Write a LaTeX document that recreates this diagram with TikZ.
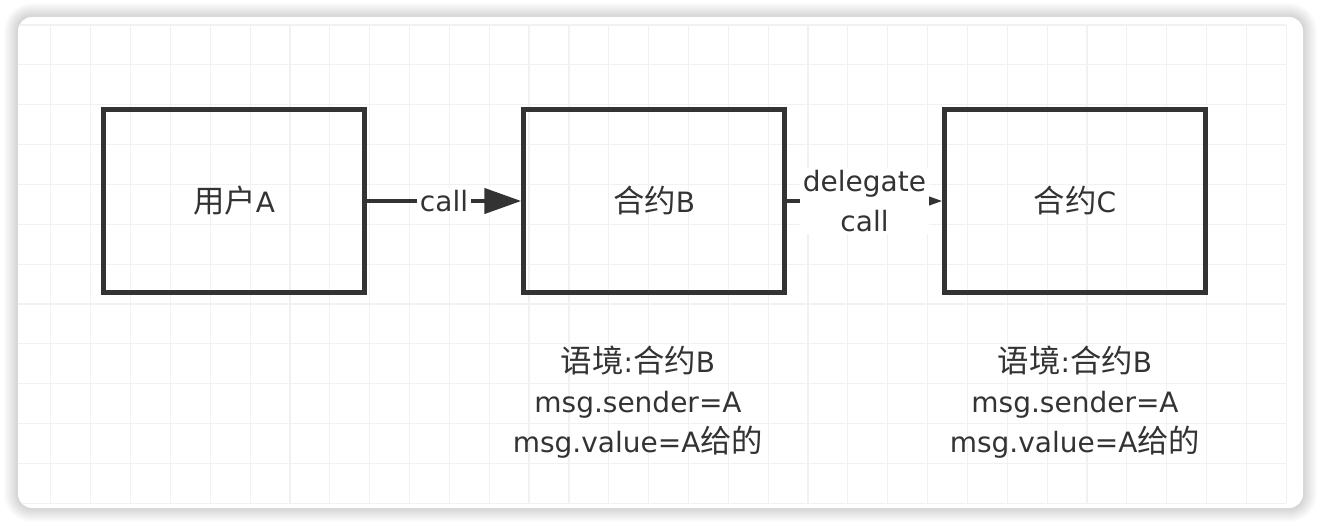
\documentclass[tikz,border=0pt]{standalone}
\usepackage{fontspec}
\setmainfont{DejaVu Sans}
\newfontfamily\cjk{Noto Sans CJK SC}[Scale=1.12]
\newcommand{\zh}[1]{{\cjk #1}}
\usetikzlibrary{arrows.meta}
\definecolor{ink}{HTML}{333333}
\definecolor{gridgray}{HTML}{F1F1F1}
\tikzset{
    txt/.style={text=ink, font=\fontsize{28}{40}\selectfont},
    blk/.style={txt, draw=ink, line width=4.5pt, minimum width=261pt, minimum height=183pt},
    lbl/.style={txt, fill=white, inner xsep=3pt, inner ysep=2pt, align=center},
    ctx/.style={txt, align=center},
    conn/.style={draw=ink, line width=4.5pt, -{Triangle[length=37pt, width=25pt]}},
    gridline/.style={draw=gridgray, line width=1.2pt}
}
\begin{document}
\begin{tikzpicture}[x=1pt, y=-1pt]
    \useasboundingbox (0, 0) rectangle (1322, 527);
        % card with a soft shadow
        \foreach \k in {1,...,14}
            \fill[black, opacity=0.011, rounded corners=14+\k] (18-\k, 17-\k) rectangle (1303+\k, 508+\k);
        \fill[white, rounded corners=14] (18, 17) rectangle (1303, 508);
        \begin{scope}
            \clip[rounded corners=14] (18, 17) rectangle (1303, 508);
            \foreach \i in {0,...,32}
                \draw[gridline] (11+39.85*\i, 25) -- (11+39.85*\i, 503);
            \foreach \j in {0,...,12}
                \draw[gridline] (11, 25+39.85*\j) -- (1286, 25+39.85*\j);
        \end{scope}
        % boxes
        \node[blk] (userA) at (234, 201) {\zh{用户}A};
        \node[blk] (contractB) at (654, 201) {\zh{合约}B};
        \node[blk] (contractC) at (1075, 201) {\zh{合约}C};
        % calls
        \draw[conn] (userA) -- node[lbl] (callLbl) {call} (contractB);
        \draw[conn] (contractB) -- node[lbl] (delegateLbl) {delegate\\call} (contractC);
        % contexts
        \node[ctx] (ctxB) at (638, 402) {\zh{语境}:\zh{合约}B\\msg.sender=A\\msg.value=A\zh{给的}};
        \node[ctx] (ctxC) at (1075, 402) {\zh{语境}:\zh{合约}B\\msg.sender=A\\msg.value=A\zh{给的}};
    \end{tikzpicture}
\end{document}
